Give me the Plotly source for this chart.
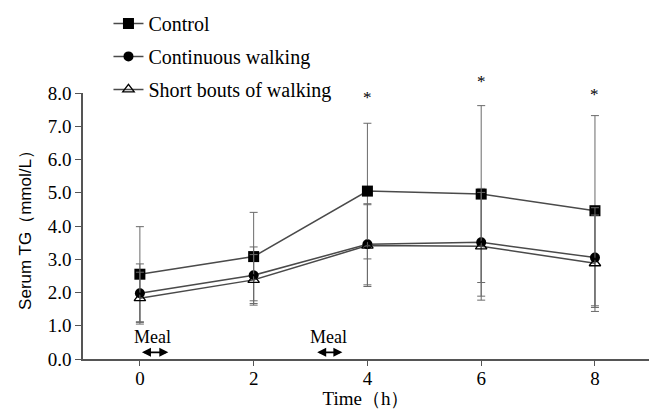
import plotly.graph_objects as go

time_h = [0, 2, 4, 6, 8]
x_ticks = [0, 2, 4, 6, 8]
y_ticks = [0, 1, 2, 3, 4, 5, 6, 7, 8]
y_tick_labels = ["0.0", "1.0", "2.0", "3.0", "4.0", "5.0", "6.0", "7.0", "8.0"]
y_range = [0, 8]

control = [2.55, 3.08, 5.05, 4.96, 4.46]
control_sd = [1.43, 1.33, 2.04, 2.66, 2.86]
continuous = [1.98, 2.52, 3.45, 3.51, 3.05]
continuous_sd = [0.88, 0.85, 1.22, 1.62, 1.50]
short_bouts = [1.83, 2.38, 3.41, 3.39, 2.88]
short_bouts_sd = [0.78, 0.76, 1.23, 1.62, 1.45]

sig_x = [4, 6, 8]
sig_y = [8.21, 8.69, 8.31]
sig_label = ["*", "*", "*"]

meal_text_x = [0.22, 3.31]
meal_text_y = 0.66
meal_arrow_start = [0.01, 3.09]
meal_arrow_end = [0.50, 3.56]
meal_arrow_y = 0.20

serif = "Liberation Serif"
sans = "Liberation Sans"

fig = go.Figure()

series = [
    ("Control", control, control_sd, dict(symbol="square", size=11, color="black")),
    ("Continuous walking", continuous, continuous_sd, dict(symbol="circle", size=10, color="black")),
    ("Short bouts of walking", short_bouts, short_bouts_sd,
     dict(symbol="triangle-up-open", size=10, color="black", line=dict(width=1.3, color="black"))),
]
for i, (name, vals, sd, mk) in enumerate(series):
    fig.add_trace(go.Scatter(
        x=time_h, y=vals, name=name, mode="lines+markers",
        line=dict(color="#4a4a4a", width=1.5),
        marker=mk,
        error_y=dict(type="data", array=sd, visible=True, color="#6a6a6a", thickness=1, width=4),
        legendgroup=f"g{i}",
        cliponaxis=False,
    ))

annotations = []
# significance stars: x in data units, y mapped through the y-axis domain so stars above the range stay visible
for sx, sy, lab in zip(sig_x, sig_y, sig_label):
    annotations.append(dict(x=sx, y=(sy - y_range[0]) / (y_range[1] - y_range[0]), xref="x", yref="y domain",
                            text=lab, showarrow=False, font=dict(family=serif, size=17, color="black")))
for tx in meal_text_x:
    annotations.append(dict(x=tx, y=meal_text_y, xref="x", yref="y", text="Meal", showarrow=False,
                            font=dict(family=serif, size=18, color="black")))
for xs, xe in zip(meal_arrow_start, meal_arrow_end):
    annotations.append(dict(x=xe, y=meal_arrow_y, ax=xs, ay=meal_arrow_y, xref="x", yref="y",
                            axref="x", ayref="y", text="", showarrow=True, arrowhead=2,
                            arrowside="end+start", arrowsize=1, arrowwidth=1.8, arrowcolor="black",
                            standoff=0, startstandoff=0))

fig.update_layout(
    width=649, height=409,
    margin=dict(l=83, r=0, t=93, b=50),
    paper_bgcolor="white", plot_bgcolor="white",
    showlegend=True,
    legend=dict(x=0.045, y=1.335, xanchor="left", yanchor="top", bgcolor="rgba(0,0,0,0)",
                font=dict(family=serif, size=20, color="black"), tracegroupgap=4,
                itemwidth=30),
    annotations=annotations,
    xaxis=dict(range=[-1.0, 8.95], tickmode="array", tickvals=x_ticks,
               showline=True, linecolor="#555", linewidth=1.5, ticks="outside", ticklen=5,
               tickcolor="#555", showgrid=False, zeroline=False, automargin=False,
               ticklabelstandoff=-4,
               tickfont=dict(family=serif, size=19, color="black"),
               title=dict(text="Time（h）", font=dict(family=serif, size=19, color="black"), standoff=4)),
    yaxis=dict(range=y_range, tickmode="array", tickvals=y_ticks, ticktext=y_tick_labels,
               showline=True, linecolor="#555", linewidth=1.5, ticks="outside", ticklen=6,
               tickcolor="#555", showgrid=False, zeroline=False, automargin=False,
               tickfont=dict(family=serif, size=19, color="black"),
               title=dict(text="Serum TG（mmol/L）", font=dict(family=sans, size=17, color="black"), standoff=12)),
)

fig.write_html("out.html", config={"displayModeBar": False},
               post_script="document.body.style.margin='0px';")
